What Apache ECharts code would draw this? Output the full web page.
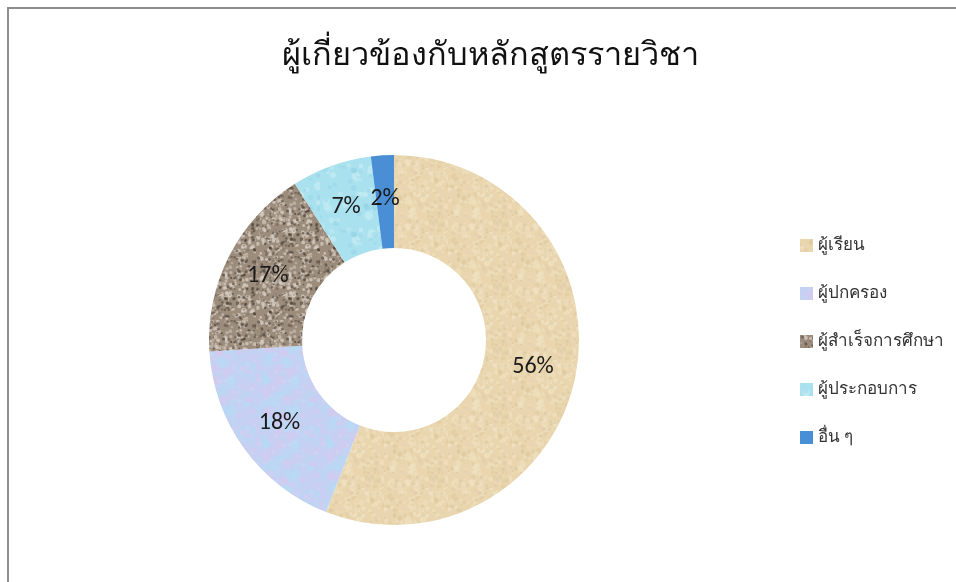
<!DOCTYPE html>
<html>
<head>
<meta charset="utf-8">
<script src="https://cdn.jsdelivr.net/npm/echarts@6/dist/echarts.min.js"></script>
<style>
  html, body { margin: 0; padding: 0; background: #fff; }
  #frame { position: absolute; left: 7px; top: 7px; width: 960px; height: 600px;
           border-left: 2px solid #8e8e8e; border-top: 2px solid #8e8e8e; box-sizing: border-box; }
  #chart { position: absolute; left: 0; top: 0; width: 956px; height: 582px; }
</style>
</head>
<body>
<div id="frame"></div>
<div id="chart"></div>
<script>
const titleText = 'ผู้เกี่ยวข้องกับหลักสูตรรายวิชา';
const categories = ['ผู้เรียน', 'ผู้ปกครอง', 'ผู้สำเร็จการศึกษา', 'ผู้ประกอบการ', 'อื่น ๆ'];
const values = [56, 18, 17, 7, 2];

// Small tiled textures for each slice (deterministic speckle noise)
function hash(i) {
  let x = Math.sin(i * 12.9898) * 43758.5453;
  return x - Math.floor(x);
}
function texture(base, spots, seed, size) {
  const c = document.createElement('canvas');
  c.width = c.height = size;
  const g = c.getContext('2d');
  g.fillStyle = base;
  g.fillRect(0, 0, size, size);
  let k = seed * 1000;
  spots.forEach(function (s) {
    for (let n = 0; n < s.count; n++) {
      const x = hash(k++) * size, y = hash(k++) * size, r = s.r * (0.5 + hash(k++));
      g.fillStyle = s.color;
      g.globalAlpha = s.alpha * (0.5 + hash(k++) * 0.5);
      g.beginPath();
      g.arc(x, y, r, 0, Math.PI * 2);
      g.fill();
    }
  });
  g.globalAlpha = 1;
  return { image: c, repeat: 'repeat' };
}

const fills = [
  texture('#e9d6af', [{ color: '#f3e6c8', r: 2.2, count: 140, alpha: 0.5 }, { color: '#d8c196', r: 1.6, count: 120, alpha: 0.4 }], 1, 64),
  texture('#c6d0f2', [{ color: '#b5dcf5', r: 5, count: 50, alpha: 0.5 }, { color: '#dcc6ef', r: 4, count: 35, alpha: 0.5 }, { color: '#d4daf4', r: 1.5, count: 60, alpha: 0.4 }], 2, 64),
  texture('#9c8c7c', [{ color: '#d9cfc4', r: 1.5, count: 240, alpha: 0.8 }, { color: '#4e4339', r: 1.1, count: 200, alpha: 0.7 }], 3, 64),
  texture('#a9e1ee', [{ color: '#cdeff6', r: 3, count: 30, alpha: 0.6 }, { color: '#8fd0e3', r: 2, count: 30, alpha: 0.5 }], 4, 64),
  '#4a8fd6'
];

const chart = echarts.init(document.getElementById('chart'), null, { renderer: 'canvas' });
chart.setOption({
  animation: false,
  backgroundColor: 'transparent',
  title: {
    text: titleText,
    left: 485,
    textAlign: 'center',
    top: 34,
    textStyle: { fontFamily: 'Noto Sans, sans-serif', fontSize: 32.5, fontWeight: 'normal', color: '#111' }
  },
  legend: {
    orient: 'vertical',
    left: 795,
    top: 232,
    itemWidth: 13,
    itemHeight: 13,
    itemGap: 31,
    icon: 'rect',
    textStyle: { fontFamily: 'Noto Sans, sans-serif', fontSize: 17, color: '#333' },
    data: categories
  },
  series: [{
    type: 'pie',
    center: [394, 340],
    radius: [92, 185],
    startAngle: 90,
    clockwise: true,
    avoidLabelOverlap: false,
    label: {
      position: 'inside',
      formatter: '{d}%',
      fontFamily: 'Calibri, Carlito, Liberation Sans, sans-serif',
      fontSize: 24,
      color: '#1a1a1a'
    },
    labelLine: { show: false },
    itemStyle: { borderWidth: 0 },
    emphasis: { disabled: true },
    data: categories.map(function (name, i) {
      return { name: name, value: values[i], itemStyle: { color: fills[i] } };
    })
  }]
});
</script>
</body>
</html>
